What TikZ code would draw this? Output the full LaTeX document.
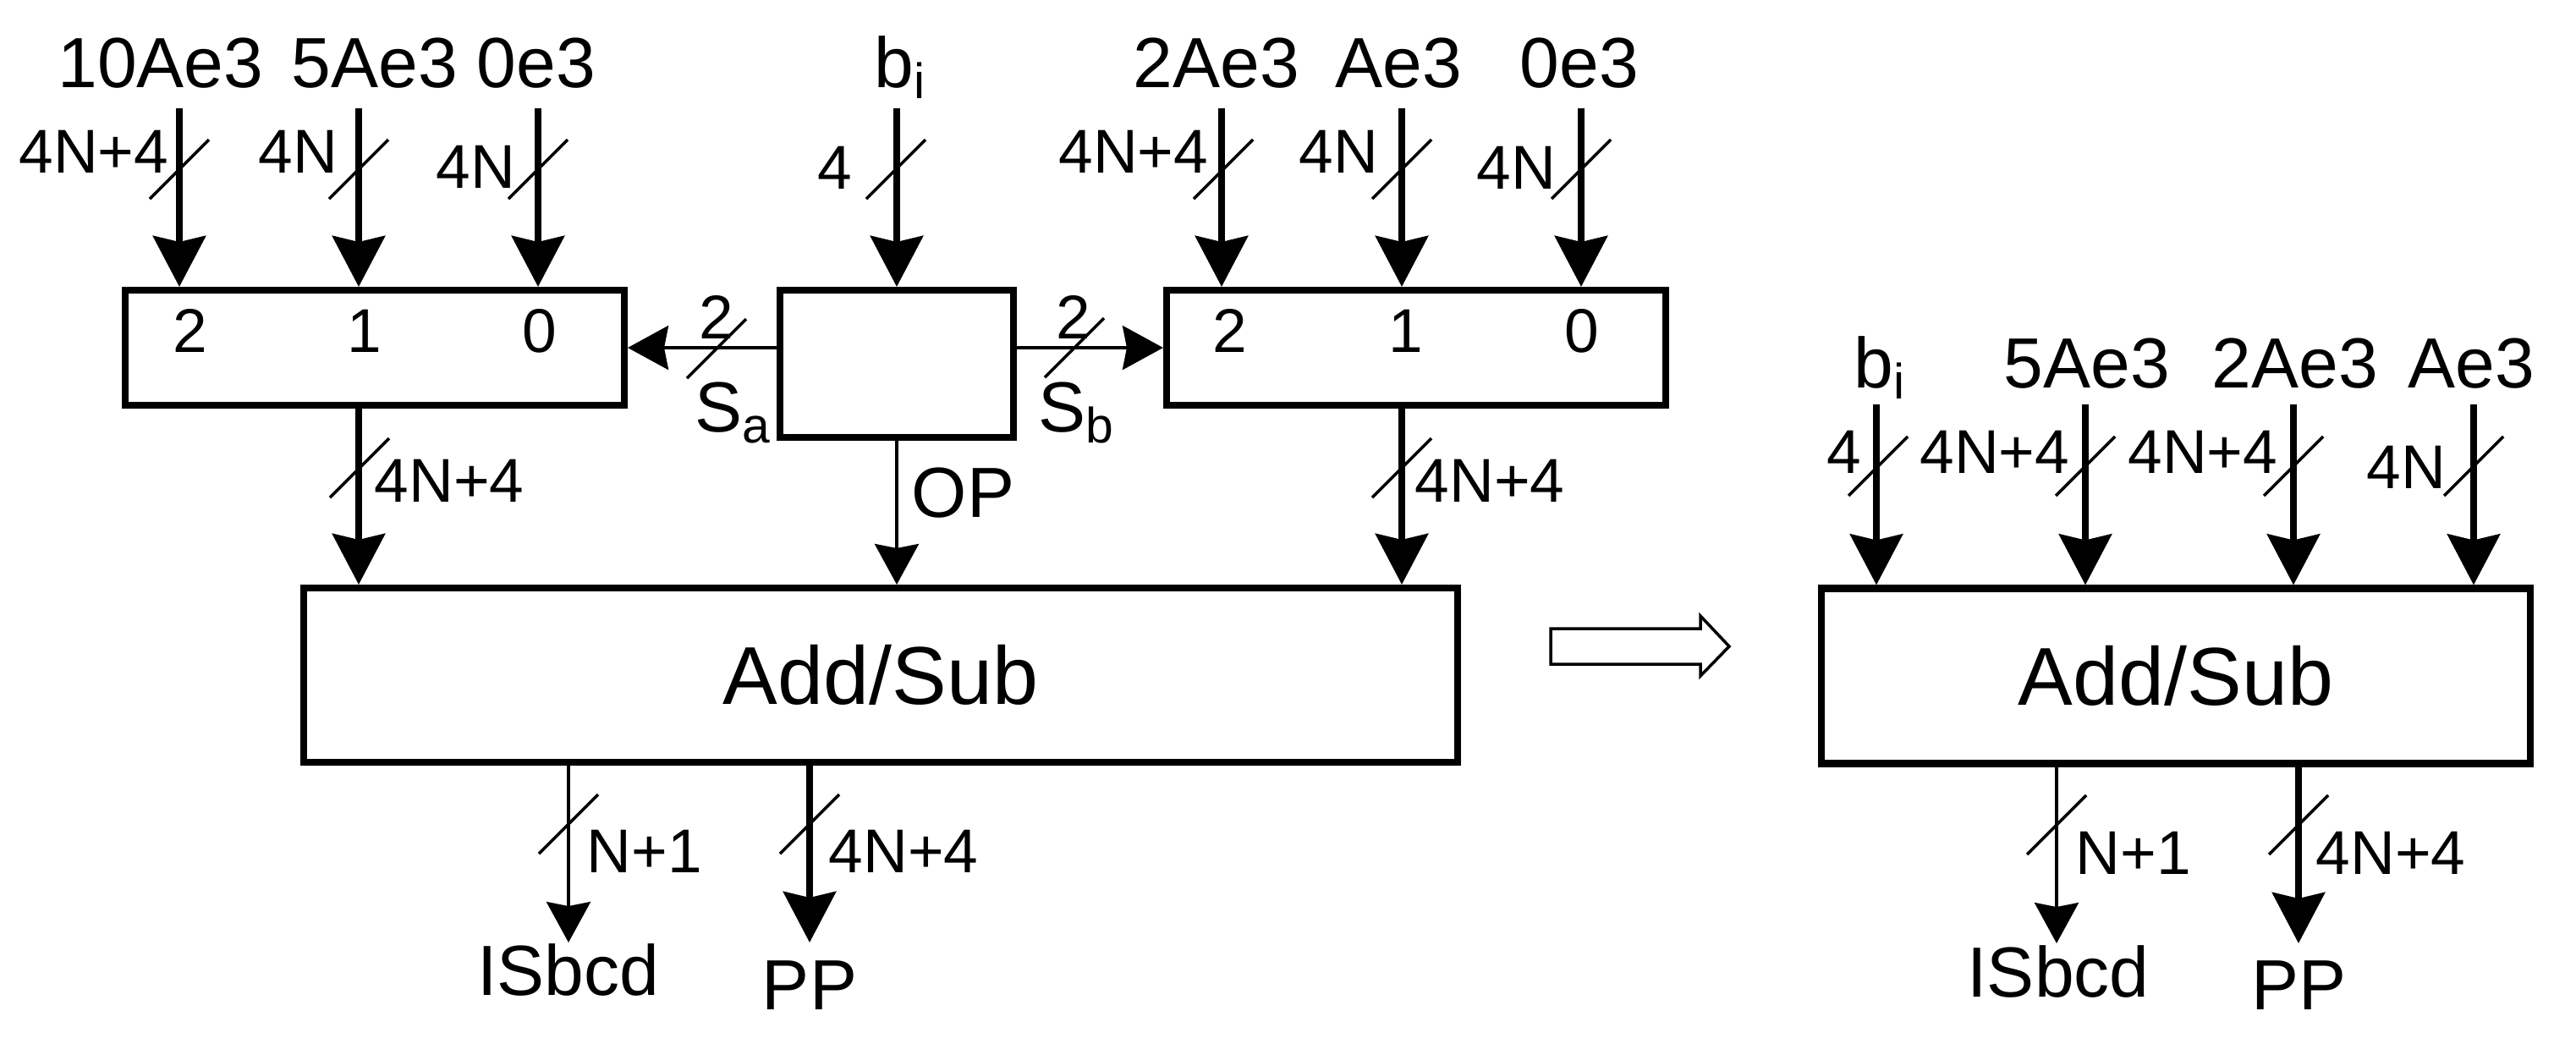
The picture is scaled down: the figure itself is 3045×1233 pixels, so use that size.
\documentclass[tikz,border=0pt]{standalone}
\usepackage{fontspec}
\setmainfont{Liberation Sans}
\usetikzlibrary{arrows.meta}

\begin{document}
\begin{tikzpicture}[x=0.1mm, y=-0.1mm,
    box/.style={draw, line width=2.3pt, inner sep=0pt},
    bus/.style={line width=2.3pt, -{Stealth[length=6mm, width=6.2mm, inset=0.7mm]}},
    sig/.style={line width=1.1pt, -{Stealth[length=4.8mm, width=5.2mm, inset=0.5mm]}},
    busmark/.style={line width=1pt},
    bigtxt/.style={inner sep=0pt, font=\fontsize{23.9}{28}\selectfont},
    smalltxt/.style={inner sep=0pt, font=\fontsize{20.8}{24}\selectfont},
    addtxt/.style={font=\fontsize{27.6}{32}\selectfont}]
    \useasboundingbox (0,0) rectangle (3045,1233);

    % boxes
    \node[box, minimum width=59mm, minimum height=13.6mm] (muxA) at (443,411) {};
    \node[box, minimum width=59mm, minimum height=13.6mm] (muxB) at (1674,411) {};
    \node[box, minimum width=27.6mm, minimum height=17.4mm] (ctrl) at (1060,430) {};
    \node[box, addtxt, minimum width=136.4mm, minimum height=20.6mm] (addA) at (1041,798) {Add/Sub};
    \node[box, addtxt, minimum width=83.8mm, minimum height=20.7mm] (addB) at (2572,799) {Add/Sub};

    % free ends
    \coordinate (a2) at (212,128);
    \coordinate (a1) at (424,128);
    \coordinate (a0) at (636,128);
    \coordinate (bi) at (1060,128);
    \coordinate (b2) at (1444,128);
    \coordinate (b1) at (1657,128);
    \coordinate (b0) at (1869,128);
    \coordinate (c1) at (2218,478);
    \coordinate (c2) at (2465,478);
    \coordinate (c3) at (2711,478);
    \coordinate (c4) at (2924,478);
    \coordinate (isA) at (672,1114);
    \coordinate (ppA) at (957,1114);
    \coordinate (isB) at (2431,1115);
    \coordinate (ppB) at (2717,1115);

    % inputs
    \foreach \p/\q in {a2/muxA, a1/muxA, a0/muxA, bi/ctrl, b2/muxB, b1/muxB, b0/muxB, c1/addB, c2/addB, c3/addB, c4/addB}
        \draw[bus] (\p) -- (\p |- \q.north);

    % select lines
    \draw[sig] (ctrl.west |- muxA.east) -- (muxA.east); % S_a
    \draw[sig] (ctrl.east |- muxB.west) -- (muxB.west); % S_b
    \draw[sig] (ctrl.south) -- (ctrl.south |- addA.north); % OP

    % mux outputs
    \draw[bus] (a1 |- muxA.south) -- (a1 |- addA.north);
    \draw[bus] (b1 |- muxB.south) -- (b1 |- addA.north);

    % outputs
    \draw[sig] (isA |- addA.south) -- (isA);
    \draw[bus] (ppA |- addA.south) -- (ppA);
    \draw[sig] (isB |- addB.south) -- (isB);
    \draw[bus] (ppB |- addB.south) -- (ppB);

    % bus width marks
    \foreach \x/\y in {212/200, 424/200, 636/200, 1059/200, 1446/200, 1657/200, 1869/200,
                       425/553, 1657/553, 847/412, 1270/411, 672/974, 957/974,
                       2220/551, 2465/551, 2711/551, 2924/551, 2431/975, 2717/975}
        \draw[busmark] (\x,\y) ++(-35,35) -- ++(70,-70);

    % top labels
    \node[bigtxt, anchor=base] (lA2) at (190,103) {10Ae3};
    \node[bigtxt, anchor=base] (lA1) at (443,103) {5Ae3};
    \node[bigtxt, anchor=base] (lA0) at (634,103) {0e3};
    \node[bigtxt, anchor=base west] (lbi) at (1033,103) {b\textsubscript{i}};
    \node[bigtxt, anchor=base] (lB2) at (1438,103) {2Ae3};
    \node[bigtxt, anchor=base] (lB1) at (1653,103) {Ae3};
    \node[bigtxt, anchor=base] (lB0) at (1867,103) {0e3};
    \node[bigtxt, anchor=base west] (lci) at (2191,458) {b\textsubscript{i}};
    \node[bigtxt, anchor=base] (lc2) at (2467,458) {5Ae3};
    \node[bigtxt, anchor=base] (lc3) at (2713,458) {2Ae3};
    \node[bigtxt, anchor=base] (lc4) at (2921,458) {Ae3};

    % widths
    \node[smalltxt, anchor=east] (wa2) at (200,179) {4N+4};
    \node[smalltxt, anchor=east] (wa1) at (400,179) {4N};
    \node[smalltxt, anchor=east] (wa0) at (610,197) {4N};
    \node[smalltxt, anchor=east] (wbi) at (1008,198) {4};
    \node[smalltxt, anchor=east] (wb2) at (1429,179) {4N+4};
    \node[smalltxt, anchor=east] (wb1) at (1630,179) {4N};
    \node[smalltxt, anchor=east] (wb0) at (1840,198) {4N};
    \node[smalltxt, anchor=east] (wc1) at (2201,534) {4};
    \node[smalltxt, anchor=east] (wc2) at (2447,534) {4N+4};
    \node[smalltxt, anchor=east] (wc3) at (2693,534) {4N+4};
    \node[smalltxt, anchor=east] (wc4) at (2892,552) {4N};
    \node[smalltxt, anchor=west] (wma) at (442,568) {4N+4};
    \node[smalltxt, anchor=west] (wmb) at (1672,568) {4N+4};
    \node[smalltxt, anchor=west] (wisA) at (693,1006) {N+1};
    \node[smalltxt, anchor=west] (wppA) at (979,1006) {4N+4};
    \node[smalltxt, anchor=west] (wisB) at (2453,1008) {N+1};
    \node[smalltxt, anchor=west] (wppB) at (2737,1008) {4N+4};

    % mux inputs
    \node[smalltxt] (na2) at (225,391) {2};
    \node[smalltxt] (na1) at (431,391) {1};
    \node[smalltxt] (na0) at (638,391) {0};
    \node[smalltxt] (nb2) at (1454,391) {2};
    \node[smalltxt] (nb1) at (1662,391) {1};
    \node[smalltxt] (nb0) at (1870,391) {0};

    % select and op labels
    \node[smalltxt] (wsa) at (847,375) {2};
    \node[smalltxt] (wsb) at (1269,375) {2};
    \node[bigtxt, anchor=base west] (lsa) at (821,510) {S\textsubscript{a}};
    \node[bigtxt, anchor=base west] (lsb) at (1227,510) {S\textsubscript{b}};
    \node[bigtxt, anchor=west] (lop) at (1077,583) {OP};

    % outputs
    \node[bigtxt, anchor=base] (lisA) at (672,1176) {ISbcd};
    \node[bigtxt, anchor=base] (lppA) at (957,1193) {PP};
    \node[bigtxt, anchor=base] (lisB) at (2433,1178) {ISbcd};
    \node[bigtxt, anchor=base] (lppB) at (2717,1193) {PP};

    % hollow arrow
    \draw[line width=1pt] (1833,743) -- (2010,743) -- (2010,728) -- (2044,764)
        -- (2010,799) -- (2010,785) -- (1833,785) -- cycle;
\end{tikzpicture}
\end{document}
